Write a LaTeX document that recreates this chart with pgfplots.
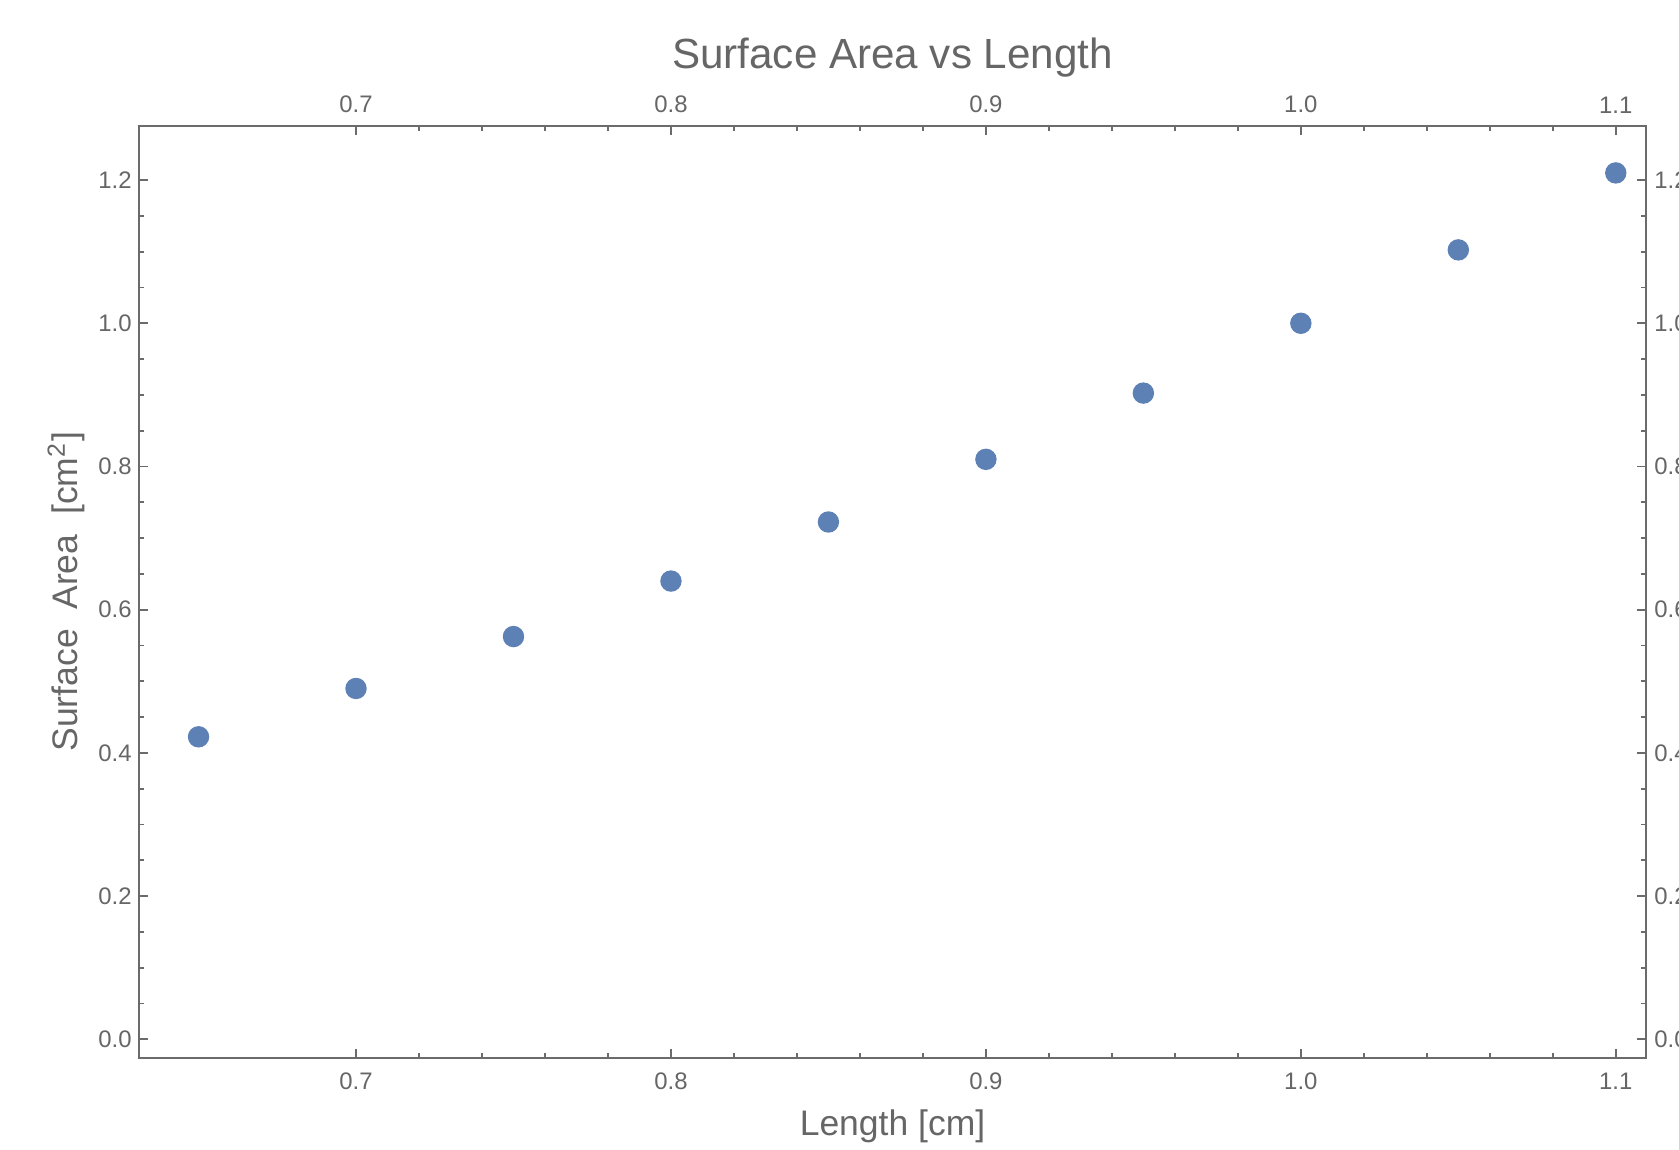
\documentclass[border=0pt]{standalone}
\usepackage{fontspec}
\setmainfont{Liberation Sans}
\usepackage{pgfplots}
\pgfplotsset{compat=1.18}
\definecolor{pt}{HTML}{5E81B5}
\definecolor{fr}{HTML}{6B6B6B}
\definecolor{tx}{HTML}{666666}
\begin{document}
\begin{tikzpicture}
\pgfplotsset{
  frame/.style={
    scale only axis, width=15.06cm, height=9.32cm,
    xmin=0.6312, xmax=1.1095, ymin=-0.026, ymax=1.2759,
    xtick={0.7,0.8,0.9,1.0,1.1}, ytick={0,0.2,0.4,0.6,0.8,1.0,1.2},
    minor x tick num=4, minor y tick num=3,
    tick align=inside,
    major tick length=0.9mm, minor tick length=0.5mm,
    axis line style={fr, line width=0.5pt},
    every tick/.style={fr, line width=0.5pt},
    /pgf/number format/assume math mode=true,
    xticklabel={\pgfmathprintnumber[fixed,fixed zerofill,precision=1]{\tick}},
    yticklabel={\pgfmathprintnumber[fixed,fixed zerofill,precision=1]{\tick}},
    tick label style={font=\fontsize{6.8}{8}\selectfont, text=tx, inner sep=0pt},
  }
}
\begin{axis}[frame, name=ax,
    tick pos=both,
    xticklabel style={yshift=-1.4mm},
    yticklabel style={xshift=-0.7mm},
    every axis title shift=0pt,
    title={Surface Area vs Length},
    title style={at={([yshift=6.85mm]axis description cs:0.5,1)}, anchor=center,
      font=\fontsize{12}{14}\selectfont, text=tx},
    xlabel={Length [cm]},
    xlabel style={at={([yshift=-6.8mm]axis description cs:0.5,0)}, anchor=center,
      font=\fontsize{10.1}{12}\selectfont, text=tx},
    ylabel={Surface\ \ Area\ \ [cm\textsuperscript{2}]},
    ylabel style={at={([xshift=-7.3mm]axis description cs:0,0.5)}, anchor=center,
      font=\fontsize{10.1}{12}\selectfont, text=tx},
]
\addplot[only marks, mark=*, mark size=1mm, mark options={fill=pt, draw=pt}]
  coordinates {
  (0.65,0.4225) (0.70,0.49) (0.75,0.5625) (0.80,0.64) (0.85,0.7225)
  (0.90,0.81) (0.95,0.9025) (1.00,1.00) (1.05,1.1025) (1.10,1.21)
  };
\end{axis}
\begin{axis}[frame,
    axis line style={draw=none},
    major tick length=0pt, minor tick length=0pt,
    xticklabel pos=right, yticklabel pos=right,
    xticklabel style={yshift=1.2mm},
    yticklabel style={xshift=0.8mm},
]
\end{axis}
\pgfresetboundingbox
\path ([shift={(-1.393cm,-0.92cm)}]ax.south west) rectangle ([shift={(0.333cm,1.257cm)}]ax.north east);
\end{tikzpicture}
\end{document}
